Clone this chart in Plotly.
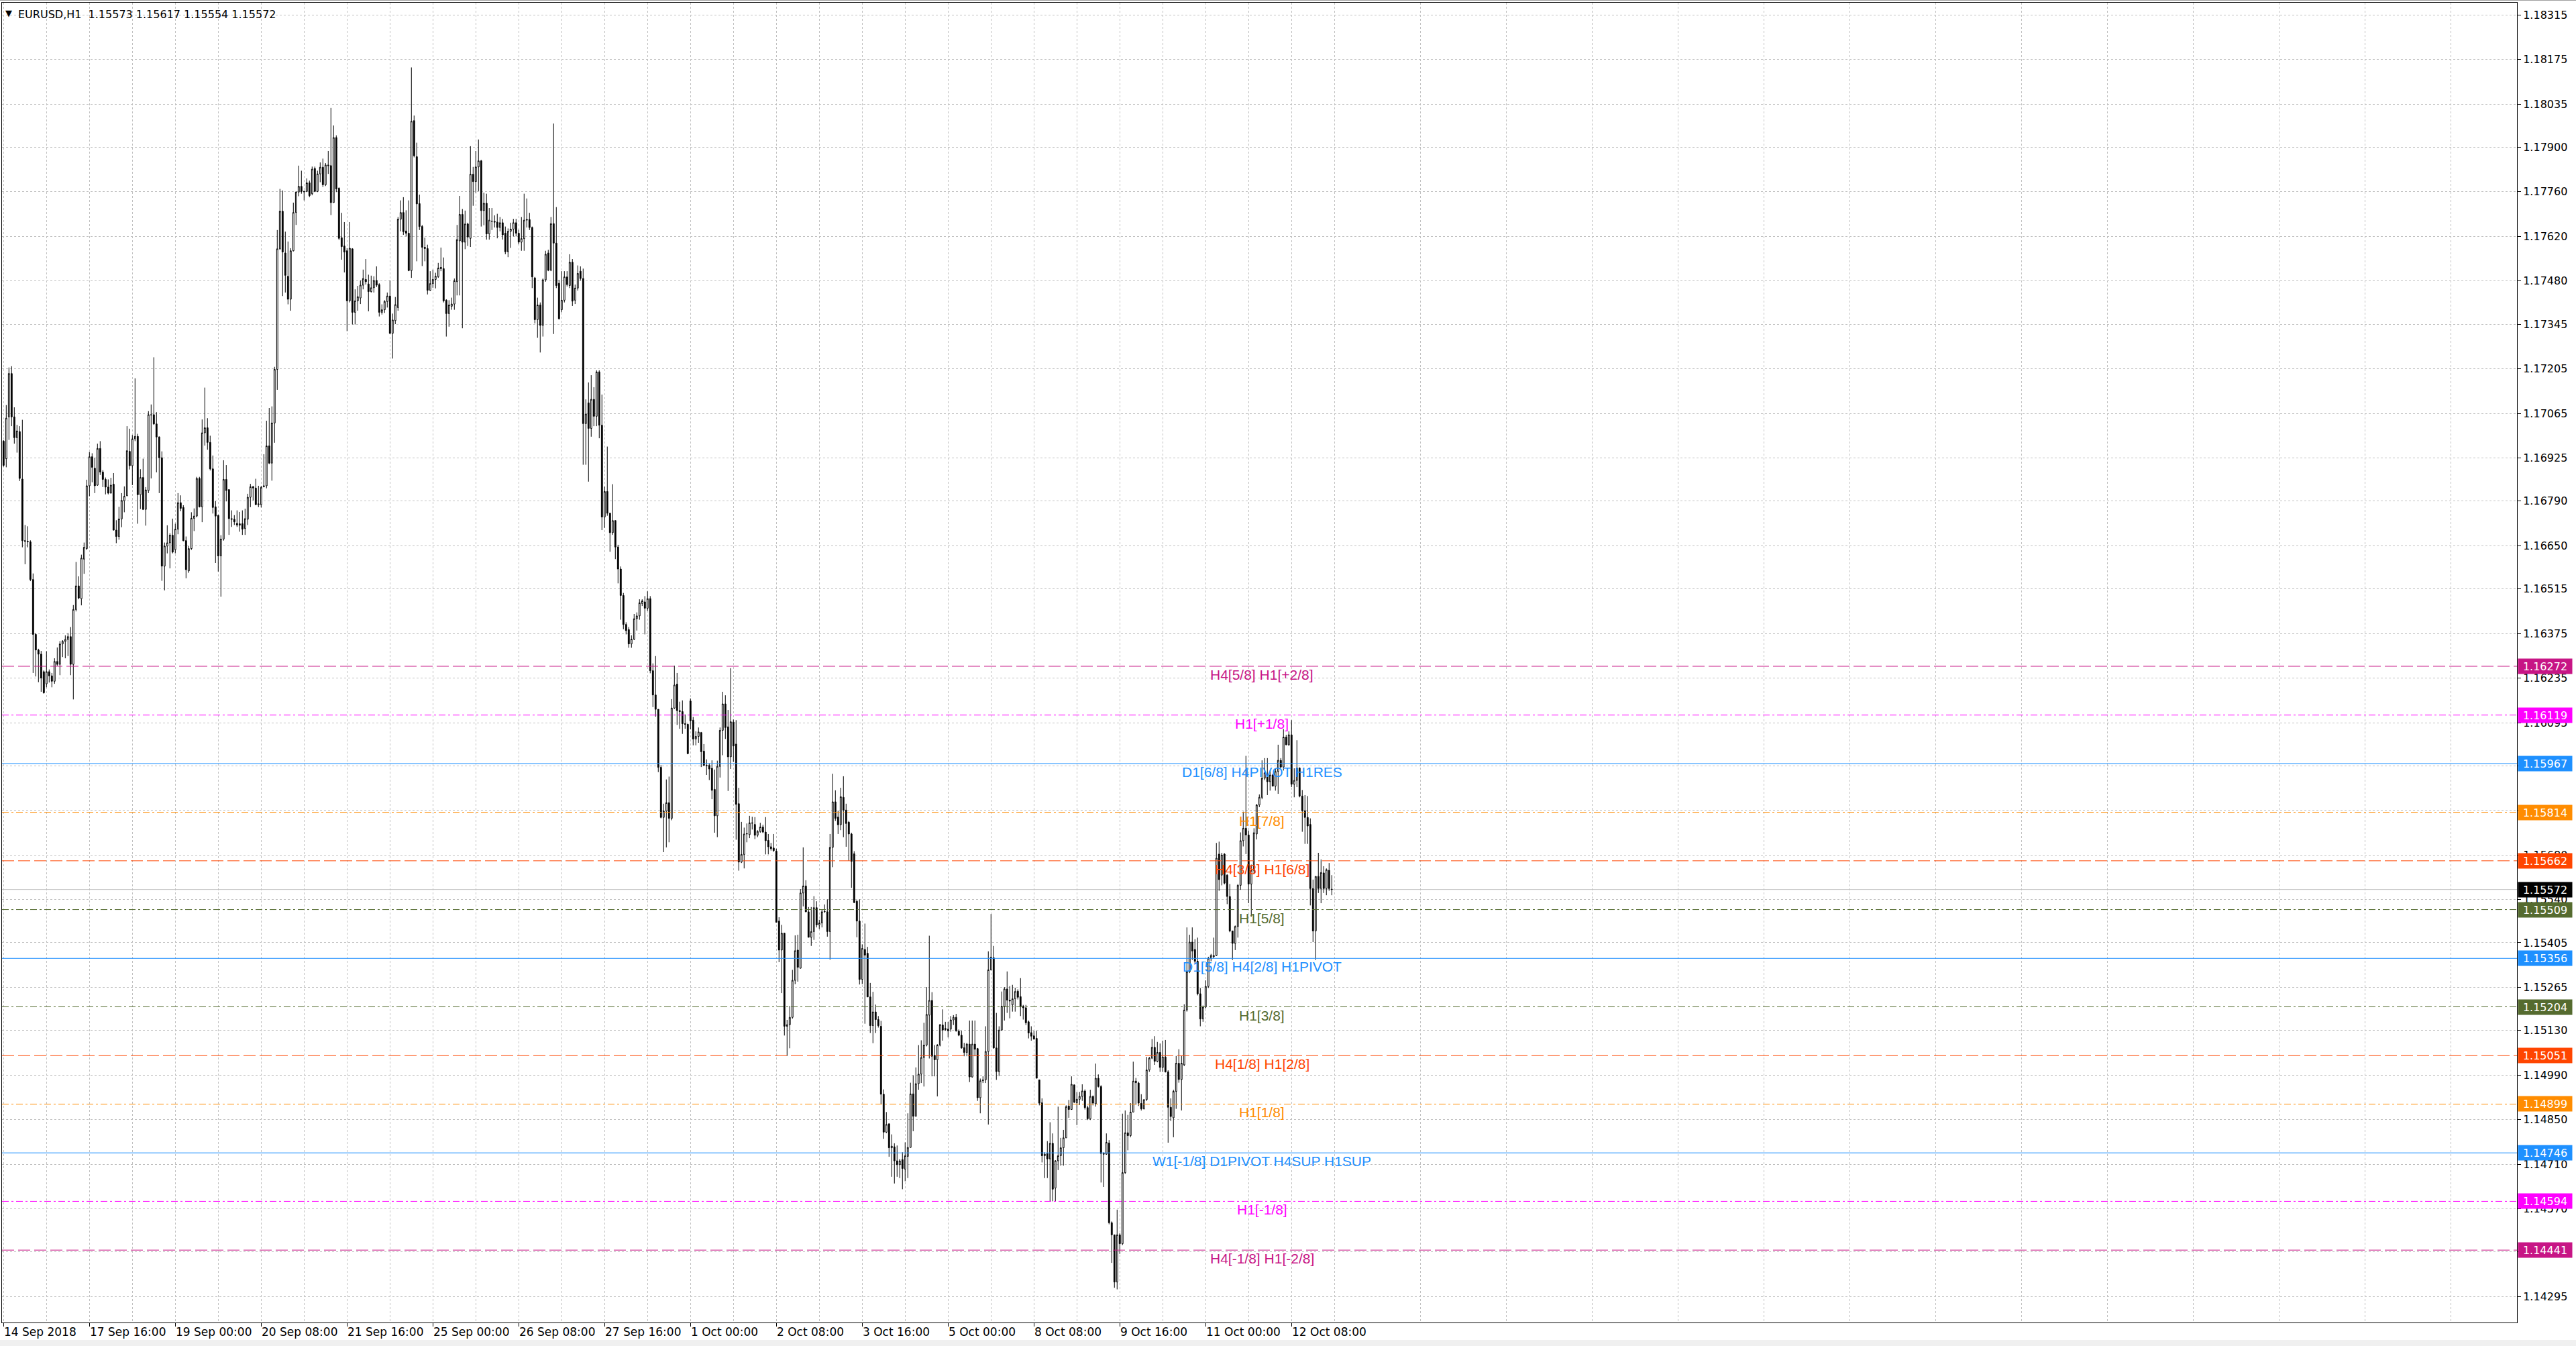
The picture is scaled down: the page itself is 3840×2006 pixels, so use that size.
import plotly.graph_objects as go

# ---------------- data (prices stored as points above 1.14000) ----------------
BASE = 1.14
OPEN = [
    2978, 2923, 3054, 3190, 3054, 2989, 3008, 2859, 2666, 2664,
    2662, 2544, 2372, 2323, 2310, 2255, 2217, 2255, 2242, 2225,
    2287, 2278, 2342, 2350, 2356, 2365, 2278, 2450, 2524, 2484,
    2608, 2641, 2838, 2929, 2893, 2840, 2955, 2881, 2858, 2834,
    2815, 2843, 2699, 2679, 2734, 2791, 2807, 2946, 2901, 2985,
    2993, 2810, 2864, 2764, 2823, 3061, 3061, 3032, 2991, 2926,
    2586, 2649, 2659, 2683, 2638, 2702, 2785, 2770, 2666, 2571,
    2641, 2736, 2743, 2861, 2772, 3004, 3020, 2974, 2891, 2772,
    2745, 2618, 2671, 2858, 2826, 2735, 2733, 2720, 2714, 2719,
    2704, 2733, 2802, 2835, 2831, 2779, 2779, 2835, 2838, 2963,
    2909, 3035, 3203, 3581, 3699, 3568, 3495, 3423, 3575, 3695,
    3759, 3777, 3761, 3761, 3788, 3754, 3833, 3761, 3816, 3837,
    3782, 3844, 3842, 3726, 3930, 3771, 3616, 3590, 3575, 3418,
    3581, 3382, 3418, 3427, 3467, 3485, 3471, 3447, 3459, 3482,
    3469, 3382, 3390, 3416, 3433, 3316, 3356, 3397, 3674, 3695,
    3637, 3630, 3513, 3983, 3870, 3723, 3651, 3586, 3582, 3451,
    3472, 3485, 3494, 3523, 3519, 3420, 3378, 3401, 3408, 3478,
    3606, 3689, 3602, 3659, 3614, 3815, 3792, 3838, 3857, 3701,
    3724, 3628, 3667, 3667, 3665, 3648, 3663, 3630, 3572, 3636,
    3643, 3663, 3630, 3602, 3613, 3671, 3673, 3648, 3490, 3359,
    3405, 3341, 3484, 3568, 3514, 3660, 3599, 3473, 3390, 3420,
    3493, 3466, 3539, 3420, 3458, 3511, 3488, 3033, 3098, 3018,
    3109, 3056, 3195, 3028, 2740, 2820, 2752, 2691, 2729, 2646,
    2577, 2494, 2403, 2387, 2342, 2357, 2421, 2430, 2469, 2474,
    2454, 2484, 2258, 2182, 2137, 1955, 1798, 1818, 1844, 1795,
    2141, 2216, 2133, 2130, 2092, 2090, 2163, 2103, 2044, 2052,
    2064, 2006, 1961, 1961, 1952, 1886, 1803, 1958, 2071, 2154,
    2082, 1988, 2097, 2028, 1841, 1658, 1682, 1746, 1744, 1781,
    1776, 1742, 1754, 1768, 1752, 1726, 1706, 1702, 1692, 1473,
    1382, 1435, 1143, 1148, 1171, 1287, 1382, 1325, 1561, 1583,
    1502, 1422, 1440, 1515, 1461, 1467, 1502, 1502, 1440, 1704,
    1847, 1799, 1775, 1861, 1821, 1783, 1746, 1684, 1535, 1473,
    1290, 1384, 1372, 1235, 1145, 1188, 1164, 1143, 930, 811,
    837, 762, 765, 721, 709, 725, 695, 735, 763, 931,
    861, 963, 993, 1045, 1084, 1178, 1224, 1052, 1038, 1084,
    1147, 1136, 1134, 1134, 1163, 1171, 1128, 1115, 1076, 1061,
    1087, 984, 1087, 1073, 919, 972, 975, 1064, 1320, 1358,
    1075, 1001, 1131, 1206, 1260, 1225, 1210, 1229, 1253, 1236,
    1206, 1201, 1157, 1123, 1113, 1105, 975, 903, 737, 744,
    727, 776, 636, 721, 737, 762, 793, 893, 882, 959,
    903, 914, 923, 940, 888, 853, 923, 900, 980, 954,
    744, 742, 777, 527, 489, 341, 489, 461, 684, 809,
    800, 874, 971, 965, 901, 884, 913, 1006, 1043, 1077,
    1033, 1061, 1014, 1047, 1000, 889, 856, 939, 1027, 976,
    1022, 1194, 1314, 1407, 1384, 1347, 1245, 1166, 1203, 1268,
    1356, 1361, 1365, 1683, 1617, 1683, 1617, 1550, 1442, 1403,
    1456, 1585, 1725, 1764, 1743, 1589, 1632, 1746, 1837, 1861,
    1921, 1930, 1910, 1931, 1896, 1942, 1977, 1956, 2050, 2026,
    2057, 1902, 1914, 1953, 1865, 1819, 1798, 1776, 1575, 1442,
    1613, 1575, 1624, 1575, 1632, 1573,
]
HIGH = [
    2981, 3091, 3209, 3213, 3084, 3029, 3025, 3045, 2715, 2711,
    2667, 2563, 2376, 2327, 2320, 2259, 2319, 2262, 2251, 2297,
    2331, 2351, 2354, 2369, 2376, 2395, 2464, 2599, 2554, 2622,
    2660, 2857, 2944, 2940, 2926, 2970, 2978, 2887, 2864, 2858,
    2863, 2878, 2730, 2772, 2815, 2836, 3025, 3017, 2997, 3175,
    3001, 2890, 2923, 2834, 3072, 3093, 3241, 3069, 2993, 2946,
    2660, 2714, 2689, 2735, 2719, 2815, 2808, 2777, 2679, 2649,
    2755, 2767, 2866, 2866, 3046, 3146, 3050, 2995, 2933, 2790,
    2747, 2683, 2918, 2903, 2826, 2761, 2746, 2761, 2756, 2761,
    2766, 2813, 2844, 2838, 2860, 2838, 2838, 2937, 3042, 3082,
    3087, 3211, 3640, 3769, 3764, 3635, 3604, 3583, 3726, 3761,
    3842, 3826, 3764, 3802, 3795, 3839, 3839, 3826, 3852, 3864,
    3850, 3888, 4023, 3968, 3937, 3774, 3694, 3665, 3583, 3665,
    3583, 3454, 3465, 3482, 3516, 3549, 3500, 3497, 3495, 3526,
    3473, 3407, 3420, 3444, 3482, 3378, 3430, 3681, 3733, 3743,
    3702, 3733, 4150, 3999, 3914, 3751, 3656, 3616, 3594, 3511,
    3516, 3506, 3537, 3585, 3554, 3423, 3420, 3428, 3488, 3656,
    3747, 3706, 3701, 3663, 3903, 3838, 3888, 3924, 3860, 3757,
    3754, 3709, 3709, 3686, 3691, 3681, 3675, 3651, 3645, 3663,
    3675, 3675, 3641, 3681, 3754, 3739, 3694, 3651, 3493, 3428,
    3413, 3488, 3575, 3578, 3681, 3974, 3712, 3484, 3511, 3511,
    3511, 3564, 3549, 3469, 3529, 3526, 3519, 3109, 3162, 3185,
    3147, 3200, 3200, 3124, 2835, 2961, 2752, 2843, 2729, 2653,
    2585, 2502, 2410, 2395, 2369, 2436, 2441, 2482, 2482, 2492,
    2507, 2492, 2281, 2304, 2137, 1962, 1841, 1917, 1926, 2169,
    2274, 2251, 2161, 2165, 2121, 2092, 2171, 2113, 2068, 2080,
    2066, 2028, 1980, 1968, 1977, 1948, 1976, 2080, 2192, 2181,
    2135, 2266, 2105, 2103, 1891, 1784, 1766, 1779, 1803, 1800,
    1799, 1758, 1781, 1775, 1799, 1746, 1718, 1746, 1700, 1485,
    1461, 1436, 1163, 1207, 1320, 1428, 1430, 1573, 1704, 1601,
    1517, 1517, 1551, 1535, 1477, 1509, 1525, 1541, 1746, 1935,
    1883, 1819, 1891, 1927, 1841, 1787, 1750, 1692, 1539, 1541,
    1400, 1465, 1392, 1279, 1251, 1211, 1175, 1160, 945, 874,
    839, 804, 776, 769, 727, 748, 779, 870, 966, 989,
    1014, 1084, 1099, 1154, 1266, 1427, 1250, 1084, 1087, 1150,
    1196, 1157, 1157, 1175, 1178, 1182, 1133, 1129, 1091, 1091,
    1161, 1161, 1161, 1075, 979, 986, 1143, 1378, 1495, 1395,
    1185, 1143, 1252, 1266, 1315, 1269, 1273, 1264, 1259, 1294,
    1210, 1210, 1161, 1143, 1129, 1129, 975, 917, 748, 783,
    842, 807, 723, 891, 793, 818, 895, 912, 986, 961,
    937, 937, 961, 945, 894, 944, 926, 1026, 992, 958,
    748, 807, 786, 531, 489, 568, 494, 869, 879, 865,
    902, 1032, 981, 969, 930, 913, 1047, 1047, 1103, 1112,
    1094, 1089, 1098, 1100, 1005, 917, 944, 1050, 1071, 1050,
    1212, 1453, 1430, 1453, 1416, 1421, 1263, 1208, 1287, 1361,
    1370, 1421, 1718, 1722, 1687, 1686, 1620, 1589, 1442, 1459,
    1589, 1751, 1816, 1991, 1757, 1650, 1764, 1840, 1870, 1977,
    1984, 1984, 1945, 1935, 1952, 2026, 1984, 2075, 2057, 2068,
    2103, 1952, 2040, 1955, 1884, 1868, 1865, 1795, 1603, 1613,
    1687, 1666, 1645, 1638, 1655, 1617,
]
LOW = [
    2898, 2896, 2982, 3025, 2970, 2942, 2853, 2645, 2592, 2645,
    2539, 2251, 2240, 2222, 2192, 2186, 2206, 2221, 2206, 2217,
    2274, 2244, 2301, 2297, 2304, 2244, 2168, 2444, 2482, 2463,
    2562, 2637, 2805, 2849, 2815, 2838, 2872, 2834, 2811, 2811,
    2814, 2698, 2658, 2669, 2708, 2755, 2805, 2889, 2840, 2978,
    2719, 2765, 2762, 2713, 2815, 2861, 3029, 2880, 2815, 2540,
    2510, 2626, 2579, 2626, 2626, 2686, 2758, 2664, 2548, 2565,
    2637, 2696, 2739, 2770, 2724, 2964, 2951, 2886, 2751, 2596,
    2569, 2490, 2666, 2789, 2684, 2709, 2715, 2709, 2694, 2684,
    2684, 2715, 2771, 2792, 2777, 2771, 2770, 2833, 2830, 2906,
    2854, 2973, 3139, 3578, 3433, 3444, 3407, 3387, 3573, 3656,
    3746, 3754, 3733, 3759, 3743, 3749, 3759, 3759, 3790, 3775,
    3778, 3816, 3687, 3726, 3759, 3609, 3547, 3507, 3323, 3413,
    3344, 3344, 3387, 3408, 3454, 3469, 3385, 3444, 3444, 3461,
    3369, 3375, 3380, 3397, 3314, 3237, 3345, 3387, 3636, 3625,
    3620, 3511, 3490, 3868, 3542, 3640, 3527, 3542, 3438, 3449,
    3459, 3457, 3490, 3511, 3413, 3306, 3337, 3390, 3390, 3435,
    3435, 3332, 3580, 3590, 3587, 3716, 3757, 3762, 3651, 3655,
    3610, 3610, 3640, 3648, 3614, 3636, 3610, 3564, 3555, 3584,
    3620, 3620, 3595, 3575, 3575, 3648, 3640, 3458, 3347, 3302,
    3256, 3306, 3478, 3511, 3511, 3314, 3458, 3359, 3382, 3413,
    3463, 3458, 3402, 3408, 3450, 3481, 2904, 2904, 2851, 2992,
    3025, 3025, 2987, 2699, 2706, 2744, 2631, 2684, 2608, 2532,
    2418, 2388, 2372, 2330, 2330, 2354, 2384, 2418, 2461, 2372,
    2446, 2250, 2144, 2114, 1940, 1795, 1689, 1704, 1720, 1789,
    2138, 2088, 2076, 2060, 2076, 1996, 2074, 2024, 2024, 2032,
    1956, 1961, 1931, 1915, 1855, 1750, 1736, 1923, 1993, 2044,
    1881, 1950, 1972, 1728, 1631, 1655, 1638, 1720, 1733, 1760,
    1730, 1736, 1750, 1749, 1682, 1682, 1694, 1690, 1469, 1344,
    1247, 1114, 1050, 1074, 1167, 1275, 1283, 1324, 1519, 1501,
    1422, 1395, 1414, 1453, 1448, 1453, 1499, 1424, 1352, 1642,
    1787, 1746, 1758, 1736, 1706, 1662, 1577, 1529, 1422, 1274,
    1275, 1151, 1235, 1122, 1090, 1122, 1139, 900, 790, 808,
    734, 671, 650, 671, 667, 632, 657, 667, 762, 814,
    860, 944, 965, 954, 1080, 1042, 986, 986, 923, 1080,
    1098, 1129, 1108, 1126, 1147, 1126, 1112, 1073, 1049, 1049,
    968, 982, 1049, 909, 870, 965, 965, 835, 1318, 1073,
    975, 987, 1129, 1161, 1185, 1168, 1189, 1189, 1227, 1175,
    1164, 1147, 1105, 1098, 1101, 980, 895, 716, 667, 667,
    594, 594, 594, 692, 706, 706, 793, 856, 881, 902,
    833, 896, 909, 882, 849, 849, 895, 891, 951, 653,
    639, 740, 522, 401, 323, 318, 429, 457, 680, 754,
    795, 874, 897, 893, 879, 882, 909, 1000, 1040, 1022,
    1030, 1000, 1000, 998, 778, 846, 795, 884, 966, 879,
    1018, 1189, 1310, 1351, 1338, 1240, 1143, 1157, 1199, 1263,
    1347, 1356, 1363, 1568, 1585, 1588, 1526, 1438, 1351, 1382,
    1421, 1571, 1707, 1683, 1529, 1487, 1620, 1729, 1830, 1855,
    1915, 1868, 1882, 1896, 1882, 1872, 1952, 1945, 2024, 2022,
    1893, 1861, 1893, 1861, 1753, 1715, 1715, 1522, 1407, 1351,
    1561, 1529, 1561, 1554, 1568, 1554,
]
CLOSE = [
    2902, 3050, 3190, 3054, 2989, 3010, 2861, 2666, 2664, 2662,
    2544, 2372, 2323, 2310, 2235, 2189, 2255, 2242, 2225, 2287,
    2278, 2342, 2350, 2356, 2365, 2278, 2450, 2524, 2486, 2611,
    2645, 2838, 2929, 2896, 2838, 2955, 2881, 2858, 2834, 2815,
    2840, 2699, 2679, 2734, 2792, 2805, 2948, 2901, 2985, 2993,
    2810, 2864, 2764, 2825, 3061, 3060, 3032, 2991, 2926, 2586,
    2649, 2659, 2683, 2630, 2702, 2785, 2767, 2666, 2575, 2641,
    2736, 2743, 2861, 2772, 3004, 3020, 2974, 2891, 2770, 2743,
    2618, 2671, 2858, 2823, 2735, 2733, 2725, 2715, 2719, 2702,
    2735, 2802, 2835, 2831, 2779, 2781, 2833, 2838, 2963, 2909,
    3035, 3203, 3581, 3699, 3571, 3498, 3423, 3575, 3695, 3759,
    3777, 3761, 3760, 3788, 3748, 3831, 3761, 3816, 3837, 3782,
    3844, 3842, 3726, 3930, 3769, 3614, 3588, 3571, 3418, 3583,
    3382, 3418, 3431, 3467, 3488, 3478, 3447, 3459, 3482, 3467,
    3382, 3390, 3416, 3433, 3316, 3358, 3406, 3674, 3695, 3635,
    3630, 3513, 3981, 3873, 3722, 3651, 3586, 3582, 3451, 3472,
    3485, 3495, 3521, 3519, 3418, 3378, 3405, 3408, 3481, 3610,
    3689, 3602, 3659, 3618, 3815, 3792, 3838, 3857, 3701, 3724,
    3628, 3671, 3668, 3665, 3648, 3663, 3625, 3572, 3636, 3643,
    3663, 3630, 3602, 3613, 3671, 3673, 3648, 3493, 3359, 3405,
    3341, 3484, 3564, 3514, 3660, 3599, 3466, 3362, 3420, 3493,
    3469, 3539, 3417, 3458, 3504, 3488, 3033, 3063, 3018, 3109,
    3056, 3195, 3028, 2740, 2820, 2752, 2691, 2729, 2646, 2577,
    2494, 2403, 2384, 2342, 2357, 2421, 2430, 2471, 2477, 2454,
    2484, 2258, 2182, 2137, 1955, 1798, 1818, 1844, 1795, 2141,
    2213, 2133, 2130, 2092, 2090, 1998, 2101, 2044, 2052, 2066,
    2004, 1961, 1960, 1950, 1883, 1803, 1958, 2071, 2154, 2080,
    1988, 2098, 2022, 1839, 1658, 1682, 1746, 1747, 1781, 1780,
    1742, 1754, 1768, 1752, 1725, 1706, 1700, 1694, 1469, 1382,
    1435, 1143, 1148, 1171, 1287, 1380, 1328, 1561, 1583, 1502,
    1422, 1440, 1515, 1461, 1467, 1502, 1503, 1440, 1704, 1847,
    1795, 1775, 1863, 1821, 1779, 1746, 1660, 1531, 1473, 1290,
    1387, 1366, 1235, 1145, 1188, 1164, 1145, 930, 811, 835,
    762, 767, 721, 709, 721, 697, 737, 763, 931, 861,
    963, 993, 1045, 1084, 1180, 1224, 1049, 1038, 1084, 1148,
    1131, 1133, 1129, 1163, 1171, 1129, 1115, 1075, 1061, 1087,
    984, 1087, 1071, 919, 972, 975, 1064, 1320, 1360, 1075,
    1001, 1131, 1206, 1260, 1225, 1222, 1229, 1252, 1234, 1206,
    1201, 1154, 1122, 1112, 1103, 980, 902, 737, 742, 727,
    776, 632, 721, 737, 762, 793, 891, 882, 961, 905,
    914, 923, 940, 888, 853, 923, 902, 980, 954, 744,
    742, 779, 527, 489, 341, 489, 461, 684, 809, 800,
    874, 971, 966, 902, 884, 913, 1006, 1043, 1077, 1033,
    1061, 1014, 1047, 1000, 889, 860, 939, 1027, 976, 1027,
    1194, 1314, 1407, 1379, 1347, 1245, 1166, 1203, 1268, 1356,
    1365, 1365, 1670, 1603, 1680, 1592, 1550, 1442, 1403, 1456,
    1585, 1725, 1764, 1743, 1589, 1632, 1750, 1837, 1861, 1921,
    1938, 1910, 1931, 1896, 1942, 1977, 1956, 2050, 2026, 2057,
    1902, 1914, 1953, 1865, 1819, 1798, 1771, 1575, 1442, 1613,
    1575, 1625, 1575, 1634, 1575, 1572,
]

TIME_LABEL_BARS = [0, 32, 64, 96, 128, 160, 192, 224, 256, 288, 320, 352, 384, 416, 448, 480]
TIME_LABELS = ["14 Sep 2018", "17 Sep 16:00", "19 Sep 00:00", "20 Sep 08:00", "21 Sep 16:00",
               "25 Sep 00:00", "26 Sep 08:00", "27 Sep 16:00", "1 Oct 00:00", "2 Oct 08:00",
               "3 Oct 16:00", "5 Oct 00:00", "8 Oct 08:00", "9 Oct 16:00", "11 Oct 00:00",
               "12 Oct 08:00"]

PRICE_TICKS = [1.18315, 1.18175, 1.18035, 1.17900, 1.17760, 1.17620, 1.17480, 1.17345,
               1.17205, 1.17065, 1.16925, 1.16790, 1.16650, 1.16515, 1.16375, 1.16235,
               1.16095, 1.15960, 1.15820, 1.15680, 1.15540, 1.15405, 1.15265, 1.15130,
               1.14990, 1.14850, 1.14710, 1.14570, 1.14435, 1.14295]

LEVELS = [1.16272, 1.16119, 1.15967, 1.15814, 1.15662, 1.15509, 1.15356,
          1.15204, 1.15051, 1.14899, 1.14746, 1.14594, 1.14441]
LEVEL_NAMES = ["H4[5/8] H1[+2/8]", "H1[+1/8]", "D1[6/8] H4PIVOT H1RES", "H1[7/8]",
               "H4[3/8] H1[6/8]", "H1[5/8]", "D1[5/8] H4[2/8] H1PIVOT", "H1[3/8]",
               "H4[1/8] H1[2/8]", "H1[1/8]", "W1[-1/8] D1PIVOT H4SUP H1SUP", "H1[-1/8]",
               "H4[-1/8] H1[-2/8]"]
LEVEL_COLORS = ["#C71585", "#FF00FF", "#1E90FF", "#FF8C00", "#FF4500", "#556B2F", "#1E90FF",
                "#556B2F", "#FF4500", "#FF8C00", "#1E90FF", "#FF00FF", "#C71585"]
LEVEL_STYLES = ["dash", "dashdot", "solid", "dashdot", "dash", "dashdot", "solid",
                "dashdot", "dash", "dashdot", "solid", "dashdot", "dash"]

LAST_PRICE = 1.15572
SYMBOL_TEXT = "EURUSD,H1\u00a0\u00a01.15573 1.15617 1.15554 1.15572"

# ---------------- figure ----------------
W, H = 3840, 2006
ML, MR, MT, MB = 3, 88, 4, 35
PLOT_H = H - MT - MB

def px(v):
    return BASE + v / 1e5

bars = list(range(len(OPEN)))
fig = go.Figure()
fig.add_trace(go.Candlestick(
    x=bars,
    open=[px(v) for v in OPEN], high=[px(v) for v in HIGH],
    low=[px(v) for v in LOW], close=[px(v) for v in CLOSE],
    increasing=dict(line=dict(color="#000000", width=1), fillcolor="#FFFFFF"),
    decreasing=dict(line=dict(color="#000000", width=1), fillcolor="#000000"),
    whiskerwidth=0, hoverinfo="skip", showlegend=False,
))

dash_map = {"dash": "18px,6px", "dashdot": "10px,4px,3px,4px", "solid": "solid"}
shapes = []
annotations = []

# current price line
shapes.append(dict(type="line", xref="paper", x0=0, x1=1, yref="y", y0=LAST_PRICE, y1=LAST_PRICE,
                   line=dict(color="#C0C0C0", width=1), layer="below"))

for lvl, name, col, sty in zip(LEVELS, LEVEL_NAMES, LEVEL_COLORS, LEVEL_STYLES):
    shapes.append(dict(type="line", xref="paper", x0=0, x1=1, yref="y", y0=lvl, y1=lvl,
                       line=dict(color=col, width=1, dash=dash_map[sty]), layer="above"))
    annotations.append(dict(x=469, xref="x", y=lvl, yref="y", text=name, showarrow=False,
                            xanchor="center", yanchor="top", yshift=1,
                            font=dict(family="Liberation Sans, Arial", size=21, color=col)))
    annotations.append(dict(x=1, xref="paper", y=lvl, yref="y", text=f"{lvl:.5f}", showarrow=False,
                            xanchor="left", yanchor="middle", xshift=1, width=80, height=22,
                            align="center", valign="middle", bgcolor=col, borderpad=0,
                            font=dict(family="DejaVu Sans", size=16, color="#FFFFFF")))

annotations.append(dict(x=1, xref="paper", y=LAST_PRICE, yref="y", text=f"{LAST_PRICE:.5f}",
                        showarrow=False, xanchor="left", yanchor="middle", xshift=1, width=80,
                        height=22, align="center", valign="middle", bgcolor="#000000", borderpad=0,
                        font=dict(family="DejaVu Sans", size=16, color="#FFFFFF")))

for b, lab in zip(TIME_LABEL_BARS, TIME_LABELS):
    annotations.append(dict(x=b, xref="x", y=0, yref="paper", text=lab, showarrow=False,
                            xanchor="left", yanchor="top", yshift=-2, xshift=-1,
                            font=dict(family="DejaVu Sans", size=17, color="#000000")))

# title
annotations.append(dict(x=0, xref="paper", y=1, yref="paper", text="\u25BC", showarrow=False,
                        xanchor="left", yanchor="top", xshift=3, yshift=-6,
                        font=dict(family="DejaVu Sans", size=13, color="#000000")))
annotations.append(dict(x=0, xref="paper", y=1, yref="paper", text=SYMBOL_TEXT, showarrow=False,
                        xanchor="left", yanchor="top", xshift=22, yshift=-6,
                        font=dict(family="DejaVu Sans", size=16, color="#000000")))

# window frame strips
shapes.append(dict(type="rect", xref="paper", yref="paper", x0=-0.01, x1=1.05,
                   y0=-(1997 - (H - MB)) / PLOT_H, y1=-(H - (H - MB)) / PLOT_H,
                   fillcolor="#F0F0F0", line=dict(width=0), layer="below"))
shapes.append(dict(type="line", xref="paper", yref="paper", x0=-0.01, x1=1.05,
                   y0=1 + 3.5 / PLOT_H, y1=1 + 3.5 / PLOT_H, line=dict(color="#A0A0A0", width=1)))

grid = dict(gridcolor="#C0C0C0", gridwidth=1, griddash="3px,3px")
fig.update_layout(
    width=W, height=H, autosize=False,
    margin=dict(l=ML, r=MR, t=MT, b=MB, pad=0),
    paper_bgcolor="#FFFFFF", plot_bgcolor="#FFFFFF",
    showlegend=False, boxgap=0.35,
    shapes=shapes, annotations=annotations,
    xaxis=dict(range=[-0.575, 936.7], tickmode="array", tickvals=TIME_LABEL_BARS,
               showticklabels=False, ticks="outside", ticklen=5, tickcolor="#000000",
               showgrid=True, **grid, zeroline=False,
               minor=dict(tickmode="linear", tick0=16, dtick=32, showgrid=True, ticks="", **grid),
               showline=True, linecolor="#000000", linewidth=1, mirror=True,
               rangeslider=dict(visible=False), fixedrange=True),
    yaxis=dict(range=[1.14214, 1.18353], side="right", tickmode="array", tickvals=PRICE_TICKS,
               ticktext=[f"{t:.5f}" for t in PRICE_TICKS],
               tickfont=dict(family="DejaVu Sans", size=16, color="#000000"),
               ticks="outside", ticklen=5, tickcolor="#000000",
               showgrid=True, **grid, zeroline=False,
               showline=True, linecolor="#000000", linewidth=1, mirror=True, fixedrange=True),
)

fig.write_html("out.html", include_plotlyjs=True, full_html=True,
               config={"displayModeBar": False, "staticPlot": True},
               post_script="document.body.style.margin='0';document.body.style.overflow='hidden';")
